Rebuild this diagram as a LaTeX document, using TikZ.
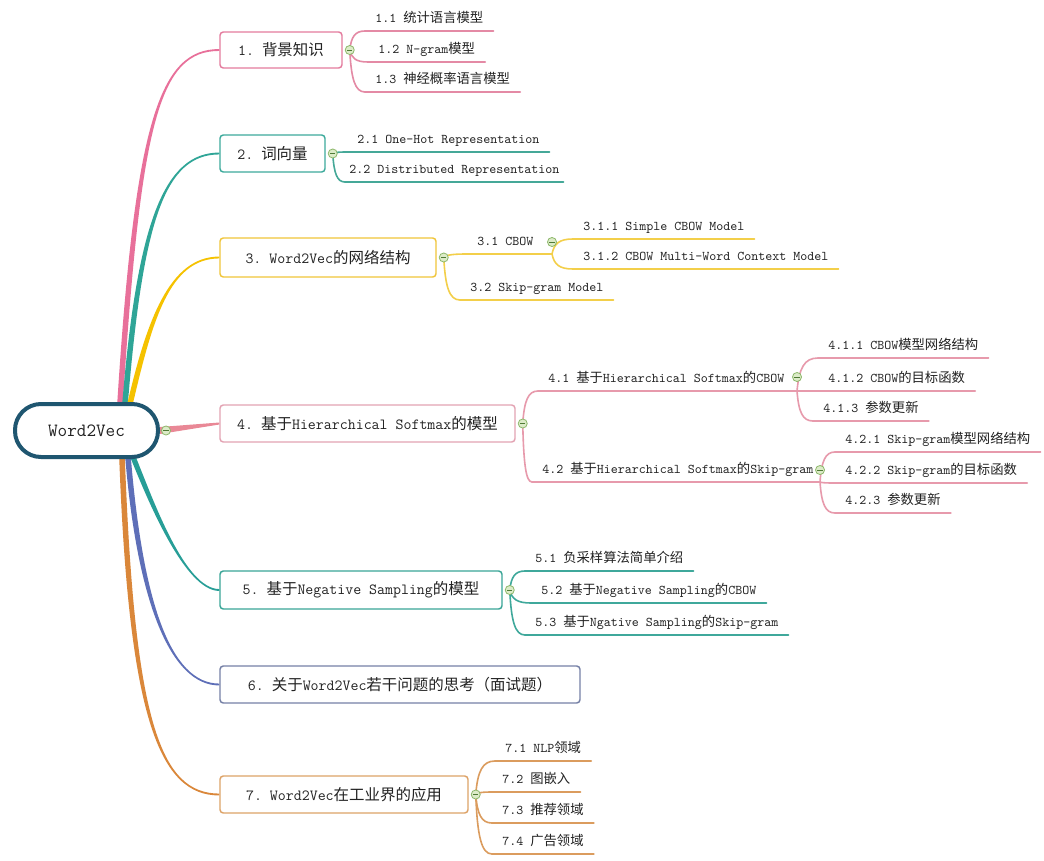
\documentclass[tikz,border=0pt]{standalone}
\usepackage{fontspec}
\newfontfamily\cjk{Noto Sans CJK SC}
\newcommand\zh[1]{{\cjk #1}}
\usetikzlibrary{calc}
\pgfdeclarelayer{back}
\pgfdeclarelayer{bg}
\pgfsetlayers{back,bg,main}
\definecolor{txt}{HTML}{222222}
\definecolor{rootc}{HTML}{1F5670}
\definecolor{con1}{HTML}{E8709A}
\definecolor{box1}{HTML}{E47C9E}
\definecolor{leaf1}{HTML}{E48AA5}
\definecolor{con2}{HTML}{2FA597}
\definecolor{box2}{HTML}{3DAA9C}
\definecolor{leaf2}{HTML}{45A898}
\definecolor{con3}{HTML}{F5C200}
\definecolor{box3}{HTML}{F0C53A}
\definecolor{leaf3}{HTML}{F3CF4A}
\definecolor{con4}{HTML}{E98896}
\definecolor{box4}{HTML}{E3A3B3}
\definecolor{leaf4}{HTML}{E79AAC}
\definecolor{con5}{HTML}{279E97}
\definecolor{box5}{HTML}{3AA597}
\definecolor{leaf5}{HTML}{3FA89B}
\definecolor{con6}{HTML}{5E6FB8}
\definecolor{box6}{HTML}{7681A6}
\definecolor{con7}{HTML}{DA873A}
\definecolor{box7}{HTML}{DDA368}
\definecolor{leaf7}{HTML}{DB9C5E}
\definecolor{foldb}{HTML}{8DB86B}
\definecolor{foldf}{HTML}{DCEBC8}
\definecolor{foldm}{HTML}{4F7A35}
\newcommand\rwa{2.1pt}
\newcommand\rwb{0.7pt}
% tapered connector: #1 colour, #2 start, #3 end, #4 c1 x-frac, #5 c1 y-frac, #6 c2 x-frac, #7 sign (+1 up, -1 down)
\newcommand\ribbon[7]{%
  \fill[#1] let \p1=(#2), \p2=(#3) in
    (\x1-\rwa,\y1) .. controls ({\x1+#4*(\x2-\x1)-\rwa},{\y1+#5*(\y2-\y1)}) and ({\x1+#6*(\x2-\x1)},{\y2+#7*\rwb}) .. (\x2,{\y2+#7*\rwb})
    -- (\x2,{\y2-#7*\rwb}) .. controls ({\x1+#6*(\x2-\x1)},{\y2-#7*\rwb}) and ({\x1+#4*(\x2-\x1)+\rwa},{\y1+#5*(\y2-\y1)}) .. (\x1+\rwa,\y1) -- cycle;}
% elbow connector
\newcommand\elbow[3]{%
  \draw[#1] let \p1=(#2), \p2=(#3) in
    (\p1) .. controls ({\x1+0.1*(\x2-\x1)},{\y1+0.7*(\y2-\y1)}) and ({\x1+0.35*(\x2-\x1)},\y2) .. (\p2);}
\newcommand\ul[2]{\draw[ln,#1] (#2.south west) -- (#2.south east);}
\begin{document}
\begin{tikzpicture}[x=0.75pt,y=-0.75pt,
  lvone/.style={draw, line width=1.1pt, rounded corners=2.5pt, fill=white, inner sep=0pt,
    font=\fontsize{11.6}{14}\selectfont\ttfamily\frenchspacing, text=txt},
  leaf/.style={anchor=south west, inner xsep=7.5pt, inner ysep=0pt, text height=9pt, text depth=6pt,
    font=\fontsize{10}{12}\selectfont\ttfamily\frenchspacing, text=txt},
  fold/.style={circle, draw=foldb, fill=foldf, line width=0.6pt, minimum size=6.8pt, inner sep=0pt,
    path picture={\draw[foldm, line width=0.7pt] ([xshift=-2pt]path picture bounding box.center) -- ([xshift=2pt]path picture bounding box.center);}},
  ln/.style={line width=1.2pt, line cap=round},
]
\useasboundingbox (0,0) rectangle (1044,860);
\begin{pgfonlayer}{back}
\fill[white] (0,0) rectangle (1044,860);
\end{pgfonlayer}

% root
\node[draw=rootc, line width=3pt, rounded corners=19.5pt, minimum width=107.25pt, minimum height=39.75pt,
  fill=white, inner sep=0pt, font=\fontsize{14}{16}\selectfont\ttfamily, text=txt] (root) at (86.5,430.5) {Word2Vec};

% main topics
\node[lvone, draw=box1, minimum width=91.5pt, minimum height=27pt] (b1) at (281,50) {1. \zh{背景知识}};
\node[lvone, draw=box2, minimum width=78.75pt, minimum height=27.75pt] (b2) at (272.5,153.5) {2. \zh{词向量}};
\node[lvone, draw=box3, minimum width=162pt, minimum height=29.25pt] (b3) at (328,257.5) {3. Word2Vec\zh{的网络结构}};
\node[lvone, draw=box4, minimum width=221.25pt, minimum height=27.75pt] (b4) at (367.5,423.5) {4. \zh{基于}Hierarchical Softmax\zh{的模型}};
\node[lvone, draw=box5, minimum width=211.5pt, minimum height=28.5pt] (b5) at (361,590) {5. \zh{基于}Negative Sampling\zh{的模型}};
\node[lvone, draw=box6, minimum width=270pt, minimum height=27.75pt] (b6) at (400,684.5) {6. \zh{关于}Word2Vec\zh{若干问题的思考（面试题）}};
\node[lvone, draw=box7, minimum width=186pt, minimum height=27.75pt] (b7) at (344,794.5) {7. Word2Vec\zh{在工业界的应用}};

% leaves
\node[leaf] (c11) at (365,31) {1.1 \zh{统计语言模型}};
\node[leaf] (c12) at (368,62) {1.2 N-gram\zh{模型}};
\node[leaf] (c13) at (365,92) {1.3 \zh{神经概率语言模型}};
\node[leaf] (c21) at (347,152) {2.1 One-Hot Representation};
\node[leaf, inner xsep=3pt] (c22) at (345,182) {2.2 Distributed Representation};
\node[leaf] (c31) at (467,254) {3.1 CBOW};
\node[leaf] (c32) at (460,300) {3.2 Skip-gram Model};
\node[leaf] (c311) at (573,239) {3.1.1 Simple CBOW Model};
\node[leaf] (c312) at (573,269) {3.1.2 CBOW Multi-Word Context Model};
\node[leaf] (c41) at (538,391) {4.1 \zh{基于}Hierarchical Softmax\zh{的}CBOW};
\node[leaf] (c42) at (532,482) {4.2 \zh{基于}Hierarchical Softmax\zh{的}Skip-gram};
\node[leaf] (c411) at (818,358) {4.1.1 CBOW\zh{模型网络结构}};
\node[leaf] (c412) at (818,391) {4.1.2 CBOW\zh{的目标函数}};
\node[leaf] (c413) at (813,421) {4.1.3 \zh{参数更新}};
\node[leaf] (c421) at (835,452) {4.2.1 Skip-gram\zh{模型网络结构}};
\node[leaf] (c422) at (835,483) {4.2.2 Skip-gram\zh{的目标函数}};
\node[leaf] (c423) at (835,513) {4.2.3 \zh{参数更新}};
\node[leaf] (c51) at (525,571) {5.1 \zh{负采样算法简单介绍}};
\node[leaf] (c52) at (531,603) {5.2 \zh{基于}Negative Sampling\zh{的}CBOW};
\node[leaf] (c53) at (525,635) {5.3 \zh{基于}Ngative Sampling\zh{的}Skip-gram};
\node[leaf] (c71) at (495,761) {7.1 NLP\zh{领域}};
\node[leaf] (c72) at (492,792) {7.2 \zh{图嵌入}};
\node[leaf] (c73) at (492,823) {7.3 \zh{推荐领域}};
\node[leaf] (c74) at (492,854) {7.4 \zh{广告领域}};

% fold buttons
\node[fold] (f0) at ($(root.east)+(6,0)$) {};
\node[fold] (f1) at ($(b1.east)+(7,0)$) {};
\node[fold] (f2) at ($(b2.east)+(7,0)$) {};
\node[fold] (f3) at ($(b3.east)+(7,0)$) {};
\node[fold] (f4) at ($(b4.east)+(7,0)$) {};
\node[fold] (f5) at ($(b5.east)+(7,0)$) {};
\node[fold] (f7) at ($(b7.east)+(7,0)$) {};
\node[fold] (f31) at (552,242) {};
\node[fold] (f41) at (797,377) {};
\node[fold] (f42) at (820,470) {};
\coordinate (j31) at (f31 |- c31.south);
\coordinate (j41) at (f41 |- c41.south);
\coordinate (j42) at (f42 |- c42.south);

% root connection points
\coordinate (s1) at ($(root.north)+(33.5,2)$);
\coordinate (s2) at ($(root.north)+(38.5,2)$);
\coordinate (s3) at ($(root.north)+(43.5,2)$);
\coordinate (s5) at ($(root.south)+(46.5,-2)$);
\coordinate (s6) at ($(root.south)+(41.5,-2)$);
\coordinate (s7) at ($(root.south)+(35.5,-2)$);

\begin{pgfonlayer}{bg}
\ribbon{con1}{s1}{b1.west}{0.18}{0.8}{0.4}{1}
\ribbon{con2}{s2}{b2.west}{0.16}{0.73}{0.42}{1}
\ribbon{con3}{s3}{b3.west}{0.22}{0.57}{0.44}{1}
\ribbon{con7}{s7}{b7.west}{0.1}{0.78}{0.39}{-1}
\ribbon{con6}{s6}{b6.west}{0.13}{0.63}{0.46}{-1}
\ribbon{con5}{s5}{b5.west}{0.2}{0.32}{0.6}{-1}
\fill[con4] ($(root.east)+(0,-3.5)$) -- ($(b4.west)+(0,-1)$) -- ($(b4.west)+(0,1)$) -- ($(root.east)+(0,3.5)$) -- cycle;

% branch 1
\elbow{ln,leaf1}{f1}{c11.south west}\ul{leaf1}{c11}
\elbow{ln,leaf1}{f1}{c12.south west}\ul{leaf1}{c12}
\elbow{ln,leaf1}{f1}{c13.south west}\ul{leaf1}{c13}
% branch 2
\elbow{ln,leaf2}{f2}{c21.south west}\ul{leaf2}{c21}
\elbow{ln,leaf2}{f2}{c22.south west}\ul{leaf2}{c22}
% branch 3
\elbow{ln,leaf3}{f3}{c31.south west}\draw[ln,leaf3] (c31.south west) -- (j31);
\elbow{ln,leaf3}{f3}{c32.south west}\ul{leaf3}{c32}
\elbow{ln,leaf3}{j31}{c311.south west}\ul{leaf3}{c311}
\elbow{ln,leaf3}{j31}{c312.south west}\ul{leaf3}{c312}
% branch 4
\elbow{ln,leaf4}{f4}{c41.south west}\draw[ln,leaf4] (c41.south west) -- (j41);
\elbow{ln,leaf4}{f4}{c42.south west}\draw[ln,leaf4] (c42.south west) -- (j42);
\elbow{ln,leaf4}{j41}{c411.south west}\ul{leaf4}{c411}
\elbow{ln,leaf4}{j41}{c412.south west}\ul{leaf4}{c412}
\elbow{ln,leaf4}{j41}{c413.south west}\ul{leaf4}{c413}
\elbow{ln,leaf4}{j42}{c421.south west}\ul{leaf4}{c421}
\elbow{ln,leaf4}{j42}{c422.south west}\ul{leaf4}{c422}
\elbow{ln,leaf4}{j42}{c423.south west}\ul{leaf4}{c423}
% branch 5
\elbow{ln,leaf5}{f5}{c51.south west}\ul{leaf5}{c51}
\elbow{ln,leaf5}{f5}{c52.south west}\ul{leaf5}{c52}
\elbow{ln,leaf5}{f5}{c53.south west}\ul{leaf5}{c53}
% branch 7
\elbow{ln,leaf7}{f7}{c71.south west}\ul{leaf7}{c71}
\elbow{ln,leaf7}{f7}{c72.south west}\ul{leaf7}{c72}
\elbow{ln,leaf7}{f7}{c73.south west}\ul{leaf7}{c73}
\elbow{ln,leaf7}{f7}{c74.south west}\ul{leaf7}{c74}
\end{pgfonlayer}
\end{tikzpicture}
\end{document}
